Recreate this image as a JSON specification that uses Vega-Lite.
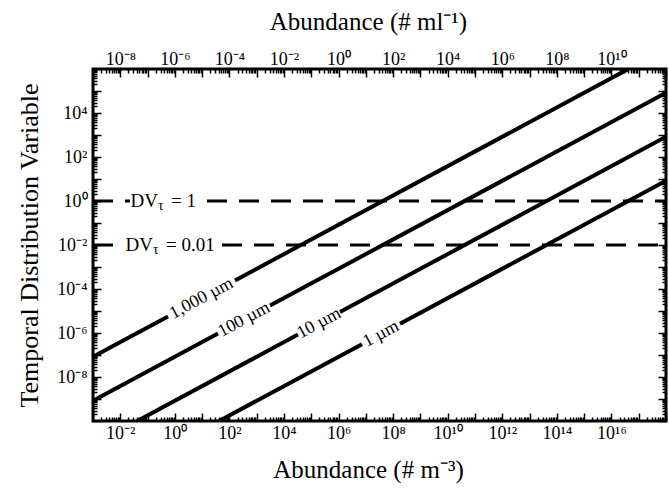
{
  "$schema": "https://vega.github.io/schema/vega-lite/v6.json",
  "width": 573,
  "height": 352,
  "autosize": {"type": "none"},
  "padding": {"left": 93, "top": 69, "right": 3, "bottom": 68},
  "config": {
    "view": {"stroke": "black", "strokeWidth": 3},
    "font": "Liberation Serif",
    "axis": {
      "labelFont": "Liberation Serif",
      "titleFont": "Liberation Serif",
      "labelColor": "black",
      "titleColor": "black",
      "titleFontWeight": "normal",
      "tickColor": "black",
      "tickWidth": 1.5,
      "grid": false,
      "domain": false,
      "labelOverlap": false,
      "labelFlush": false,
      "tickCount": 200
    }
  },
  "datasets": {
    "lines": [
      {"size": "1000", "seg": "a", "N": 0.001, "DV": 8.318e-8},
      {"size": "1000", "seg": "a", "N": 0.561, "DV": 5.662e-6},
      {"size": "1000", "seg": "b", "N": 160, "DV": 2.449e-4},
      {"size": "1000", "seg": "b", "N": 4.169e16, "DV": 1e6},
      {"size": "100", "seg": "a", "N": 0.001, "DV": 8.318e-10},
      {"size": "100", "seg": "a", "N": 38.11, "DV": 9.419e-7},
      {"size": "100", "seg": "b", "N": 3069, "DV": 1.758e-5},
      {"size": "100", "seg": "b", "N": 1e18, "DV": 83176},
      {"size": "10", "seg": "a", "N": 0.04169, "DV": 1e-10},
      {"size": "10", "seg": "a", "N": 32584, "DV": 8.492e-7},
      {"size": "10", "seg": "b", "N": 1.127e6, "DV": 9.016e-6},
      {"size": "10", "seg": "b", "N": 1e18, "DV": 831.8},
      {"size": "1", "seg": "a", "N": 41.69, "DV": 1e-10},
      {"size": "1", "seg": "a", "N": 7.228e6, "DV": 3.112e-7},
      {"size": "1", "seg": "b", "N": 1.782e8, "DV": 2.636e-6},
      {"size": "1", "seg": "b", "N": 1e18, "DV": 8.318}
    ],
    "lineLabels": [
      {"label": "1,000 µm", "N": 9.46, "DV": 3.72e-5},
      {"label": "100 µm", "N": 342, "DV": 4.06e-6},
      {"label": "10 µm", "N": 1.919e5, "DV": 2.77e-6},
      {"label": "1 µm", "N": 3.589e7, "DV": 9.05e-7}
    ],
    "dashes": [
      {"DV": 1, "N1": 0.001, "N2": 0.0227},
      {"DV": 1, "N1": 15.07, "N2": 1e18},
      {"DV": 0.01, "N1": 0.001, "N2": 0.01156},
      {"DV": 0.01, "N1": 53.4, "N2": 1e18}
    ],
    "dvLabels": [
      {"DV": 1, "N": 0.241, "a": "DV", "b": "τ", "c": "= 1"},
      {"DV": 0.01, "N": 0.158, "a": "DV", "b": "τ", "c": "= 0.01"}
    ]
  },
  "layer": [
    {
      "data": {"name": "lines"},
      "mark": {"type": "line", "color": "black", "strokeWidth": 4, "clip": true},
      "encoding": {
        "x": {
          "field": "N", "type": "quantitative",
          "scale": {"type": "log", "domain": [0.001, 1e18], "nice": false},
          "axis": {
            "orient": "bottom",
            "title": "Abundance (# m⁻³)",
            "titleFontSize": 25,
            "titlePadding": 11,
            "titleX": 275,
            "labelFontSize": 18,
            "labelPadding": 11,
            "labelBaseline": "top",
            "tickSize": {"condition": {"test": "abs(log(datum.value)/LN10 - round(log(datum.value)/LN10)) < 0.0001", "value": -8}, "value": -4},
            "labelExpr": "abs(log(datum.value)/LN10 - round(log(datum.value)/LN10)) < 0.0001 && round(log(datum.value)/LN10) % 2 == 0 && round(log(datum.value)/LN10) >= -2 && round(log(datum.value)/LN10) <= 16 ? '10' + ['⁻²','⁰','²','⁴','⁶','⁸','¹⁰','¹²','¹⁴','¹⁶'][(round(log(datum.value)/LN10) + 2) / 2] : ''"
          }
        },
        "y": {
          "field": "DV", "type": "quantitative",
          "scale": {"type": "log", "domain": [1e-10, 1e6], "nice": false},
          "axis": {
            "orient": "left",
            "title": "Temporal Distribution Variable",
            "titleFontSize": 26,
            "titlePadding": 14,
            "labelFontSize": 18,
            "labelPadding": 14,
            "tickSize": {"condition": {"test": "abs(log(datum.value)/LN10 - round(log(datum.value)/LN10)) < 0.0001", "value": -8}, "value": -4},
            "labelExpr": "abs(log(datum.value)/LN10 - round(log(datum.value)/LN10)) < 0.0001 && round(log(datum.value)/LN10) % 2 == 0 && round(log(datum.value)/LN10) >= -8 && round(log(datum.value)/LN10) <= 4 ? '10' + ['⁻⁸','⁻⁶','⁻⁴','⁻²','⁰','²','⁴'][(round(log(datum.value)/LN10) + 8) / 2] : ''"
          }
        },
        "detail": {"field": "seg"},
        "color": {"field": "size", "type": "nominal", "scale": {"range": ["black"]}, "legend": null}
      }
    },
    {
      "data": {"name": "dashes"},
      "mark": {"type": "rule", "color": "black", "strokeWidth": 3, "strokeDash": [20, 12]},
      "encoding": {
        "x": {
          "field": "N1", "type": "quantitative",
          "scale": {"type": "log", "domain": [0.001, 1e18], "nice": false},
          "axis": {
            "orient": "top",
            "title": "Abundance (# ml⁻¹)",
            "titleFontSize": 25,
            "titlePadding": 12,
            "titleX": 275,
            "labelFontSize": 18,
            "labelPadding": 9,
            "tickSize": {"condition": {"test": "abs(log(datum.value)/LN10 - round(log(datum.value)/LN10)) < 0.0001", "value": -8}, "value": -4},
            "labelExpr": "abs(log(datum.value)/LN10 - round(log(datum.value)/LN10)) < 0.0001 && round(log(datum.value)/LN10) % 2 == 0 && round(log(datum.value)/LN10) >= -2 && round(log(datum.value)/LN10) <= 16 ? '10' + ['⁻⁸','⁻⁶','⁻⁴','⁻²','⁰','²','⁴','⁶','⁸','¹⁰'][(round(log(datum.value)/LN10) + 2) / 2] : ''"
          }
        },
        "x2": {"field": "N2"},
        "y": {
          "field": "DV", "type": "quantitative",
          "scale": {"type": "log", "domain": [1e-10, 1e6], "nice": false},
          "axis": {
            "orient": "right",
            "title": null,
            "labels": false,
            "tickSize": {"condition": {"test": "abs(log(datum.value)/LN10 - round(log(datum.value)/LN10)) < 0.0001", "value": -8}, "value": -4}
          }
        }
      }
    },
    {
      "data": {"name": "lineLabels"},
      "mark": {"type": "text", "font": "Liberation Serif", "fontSize": 18, "angle": -28, "align": "center", "baseline": "middle", "color": "black"},
      "encoding": {
        "x": {"field": "N", "type": "quantitative", "scale": {"type": "log", "domain": [0.001, 1e18], "nice": false}, "axis": null},
        "y": {"field": "DV", "type": "quantitative", "scale": {"type": "log", "domain": [1e-10, 1e6], "nice": false}, "axis": null},
        "text": {"field": "label"}
      }
    },
    {
      "data": {"name": "dvLabels"},
      "mark": {"type": "text", "font": "Liberation Serif", "fontSize": 19, "align": "right", "baseline": "middle", "color": "black"},
      "encoding": {
        "x": {"field": "N", "type": "quantitative", "scale": {"type": "log", "domain": [0.001, 1e18], "nice": false}, "axis": null},
        "y": {"field": "DV", "type": "quantitative", "scale": {"type": "log", "domain": [1e-10, 1e6], "nice": false}, "axis": null},
        "text": {"field": "a"}
      }
    },
    {
      "data": {"name": "dvLabels"},
      "mark": {"type": "text", "font": "Liberation Serif", "fontSize": 14, "align": "left", "baseline": "middle", "dx": 0, "dy": 5, "color": "black"},
      "encoding": {
        "x": {"field": "N", "type": "quantitative", "scale": {"type": "log", "domain": [0.001, 1e18], "nice": false}, "axis": null},
        "y": {"field": "DV", "type": "quantitative", "scale": {"type": "log", "domain": [1e-10, 1e6], "nice": false}, "axis": null},
        "text": {"field": "b"}
      }
    },
    {
      "data": {"name": "dvLabels"},
      "mark": {"type": "text", "font": "Liberation Serif", "fontSize": 19, "align": "left", "baseline": "middle", "dx": 13, "color": "black"},
      "encoding": {
        "x": {"field": "N", "type": "quantitative", "scale": {"type": "log", "domain": [0.001, 1e18], "nice": false}, "axis": null},
        "y": {"field": "DV", "type": "quantitative", "scale": {"type": "log", "domain": [1e-10, 1e6], "nice": false}, "axis": null},
        "text": {"field": "c"}
      }
    }
  ],
  "resolve": {"axis": {"x": "independent", "y": "independent"}}
}
